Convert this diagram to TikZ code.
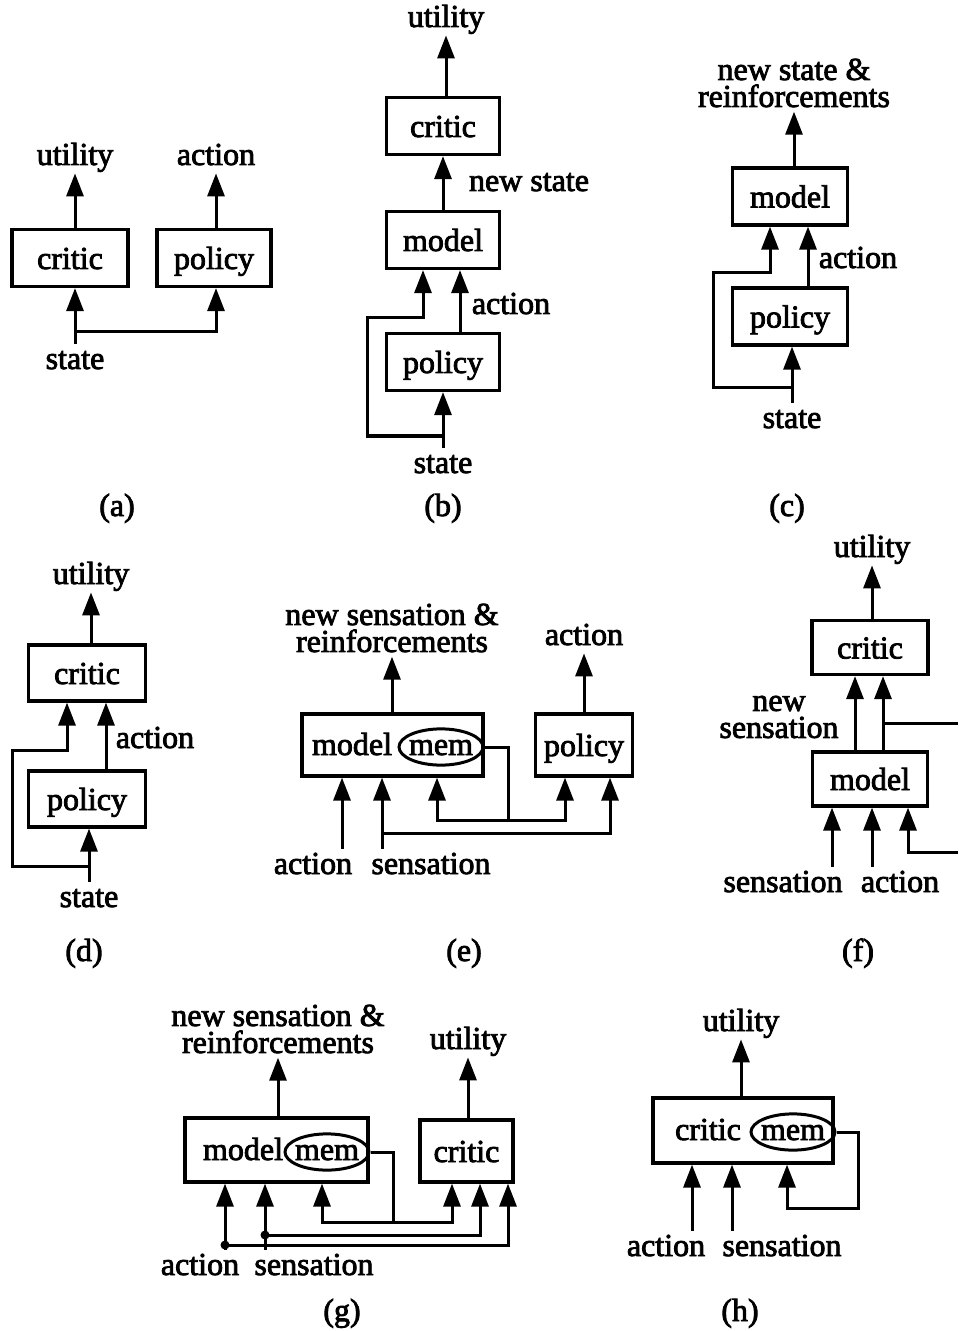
\documentclass[tikz,border=0pt]{standalone}
\usepackage{fontspec}
\newfontfamily\scanfont{Liberation Serif}[FakeBold=2.5]
\usetikzlibrary{arrows.meta, calc, shapes.geometric}
\newcommand{\figfont}{\scanfont\fontsize{16}{13.5}\selectfont}
\tikzset{
  blk/.style    = {draw, line width=1.6pt, minimum width=57pt, minimum height=28.5pt,
                   font=\figfont, text height=13pt, text depth=2pt, inner sep=2pt},
  memo/.style   = {draw, ellipse, line width=1.5pt, minimum width=42pt, minimum height=18pt,
                   font=\figfont, text height=12pt, text depth=4pt, anchor=base,
                   inner xsep=-1.2pt, inner ysep=-1.6pt},
  txt/.style    = {font=\figfont, anchor=base, inner sep=0pt},
  lbl/.style    = {font=\figfont, text height=12.5pt, text depth=4pt, anchor=base, inner sep=0pt},
  lbltwo/.style = {font=\figfont, align=center, inner sep=2pt},
  flow/.style   = {-{Triangle[length=11.5pt, width=8.5pt]}, line width=1.5pt},
  wire/.style   = {line width=1.5pt},
  jdot/.style   = {circle, fill, inner sep=0pt, minimum size=4.5pt},
}

\begin{document}
\begin{tikzpicture}[x=0.5pt, y=-0.5pt]
    \useasboundingbox (0,0) rectangle (958,1331);

    % (a)
    \node[blk, minimum width=58pt] (aCritic) at (70,258)  {critic};
    \node[blk]                     (aPolicy) at (214,258) {policy};
    \node[lbl] (aUtil)  at (75,165)  {utility};
    \node[lbl] (aAct)   at (216,165) {action};
    \node[lbl] (aState) at (75,369)  {state};
    \coordinate (aFork) at (75,332);
    \draw[flow] (aUtil.south |- aCritic.north) -- (aUtil.south);
    \draw[flow] (aAct.south |- aPolicy.north) -- (aAct.south);
    \draw[flow] (aState.north) -- (aState.north |- aCritic.south);
    \draw[flow] (aFork) -| (aAct.south |- aPolicy.south);
    \node[lbl] (aTag) at (117,516) {(a)};

    % (b)
    \node[blk, minimum width=56.5pt] (bCritic) at (443,126) {critic};
    \node[blk, minimum width=56.5pt] (bModel)  at (443,240) {model};
    \node[blk, minimum width=56.5pt] (bPolicy) at (443,362) {policy};
    \node[lbl] (bUtil)  at (446,27)  {utility};
    \node[lbl] (bNew)   at (529,191) {new state};
    \node[lbl] (bAct)   at (511,314) {action};
    \node[lbl] (bState) at (443,473) {state};
    \coordinate (bFork) at (443,436);
    \draw[flow] (bUtil.south |- bCritic.north) -- (bUtil.south);
    \draw[flow] (bModel.north) -- (bCritic.south);
    \draw[flow] ($(bPolicy.north)+(17,0)$) -- ($(bModel.south)+(17,0)$);
    \draw[flow] (bState.north) -- (bPolicy.south);
    \draw[flow] (bFork) -| (367,318) -| ($(bModel.south)+(-20,0)$);
    \node[lbl] (bTag) at (443,516) {(b)};

    % (c)
    \node[blk, minimum width=57.5pt] (cModel)  at (790,196.5) {model};
    \node[blk, minimum width=57.5pt] (cPolicy) at (790,316.5) {policy};
    \node[lbltwo] (cOut) at (794,83) {new state \&\\reinforcements};
    \node[lbl] (cAct)   at (858,268) {action};
    \node[lbl] (cState) at (792,428) {state};
    \coordinate (cFork) at (792,388);
    \draw[flow] (cOut.south |- cModel.north) -- (cOut.south);
    \draw[flow] ($(cPolicy.north)+(18,0)$) -- ($(cModel.south)+(18,0)$);
    \draw[flow] (cState.north) -- (cState.north |- cPolicy.south);
    \draw[flow] (cFork) -| (713,273) -| ($(cModel.south)+(-20,0)$);
    \node[lbl] (cTag) at (787,516) {(c)};

    % (d)
    \node[blk, minimum width=58.5pt, minimum height=28pt] (dCritic) at (87,673) {critic};
    \node[blk, minimum width=58.5pt, minimum height=28pt] (dPolicy) at (87,799) {policy};
    \node[lbl] (dUtil)  at (91,584)  {utility};
    \node[lbl] (dAct)   at (155,748) {action};
    \node[lbl] (dState) at (89,907)  {state};
    \coordinate (dFork) at (89,866);
    \draw[flow] (dUtil.south |- dCritic.north) -- (dUtil.south);
    \draw[flow] ($(dPolicy.north)+(19,0)$) -- ($(dCritic.south)+(19,0)$);
    \draw[flow] (dState.north) -- (dState.north |- dPolicy.south);
    \draw[flow] (dFork) -| (12,750) -| ($(dCritic.south)+(-20,0)$);
    \node[lbl] (dTag) at (84,961) {(d)};

    % (e)
    \node[blk, minimum width=90.5pt, minimum height=31pt] (eModel) at (392.5,745) {};
    \node[txt]  (eModelTxt) at (352,755) {model};
    \node[memo] (eMem)      at (441,755) {mem};
    \node[blk, minimum width=48.5pt, minimum height=31pt] (ePolicy) at (584,745) {policy};
    \node[lbltwo] (eOut) at (392,628) {new sensation \&\\reinforcements};
    \node[lbl] (eAct)   at (584,645) {action};
    \node[lbl] (eActIn) at (313,874) {action};
    \node[lbl] (eSens)  at (431,874) {sensation};
    \coordinate (eTap)      at (508,820);
    \coordinate (eSensFork) at (382,833);
    \draw[flow] (eModel.north -| eOut.south) -- (eOut.south);
    \draw[flow] (ePolicy.north -| eAct.south) -- (eAct.south);
    \draw[flow] ($(eActIn.north)+(29,0)$) -- ($(eModel.south)+(-50.5,0)$);
    \draw[flow] ($(eSens.north)+(-49,0)$) -- ($(eModel.south)+(-10.5,0)$);
    \draw[wire] (eMem.east) -| (eTap);
    \draw[flow] (eTap) -| ($(eModel.south)+(44.5,0)$);
    \draw[flow] (eTap) -| ($(ePolicy.south)+(-19,0)$);
    \draw[flow] (eSensFork) -| ($(ePolicy.south)+(26,0)$);
    \node[lbl] (eTag) at (464,961) {(e)};

    % (f)
    \node[blk, minimum width=58pt, minimum height=27pt]   (fCritic) at (870,647.5) {critic};
    \node[blk, minimum width=57.5pt, minimum height=27pt] (fModel)  at (870,779)   {model};
    \node[lbl]    (fUtil) at (872,557) {utility};
    \node[lbltwo] (fNew)  at (779,717) {new\\sensation};
    \node[lbl]    (fSens) at (783,892) {sensation};
    \node[lbl]    (fAct)  at (900,892) {action};
    \coordinate (fOut)  at (958,723);
    \coordinate (fJoin) at (883,723);
    \coordinate (fBack) at (958,852);
    \draw[flow] (fUtil.south |- fCritic.north) -- (fUtil.south);
    \draw[flow] ($(fModel.north)+(-15,0)$) -- ($(fCritic.south)+(-15,0)$);
    \draw[flow] ($(fModel.north)+(13,0)$) -- ($(fCritic.south)+(13,0)$);
    \draw[wire] (fOut) -- (fJoin);
    \draw[flow] ($(fSens.north)+(49,0)$) -- ($(fModel.south)+(-38,0)$);
    \draw[flow] ($(fAct.north)+(-28,0)$) -- ($(fModel.south)+(2,0)$);
    \draw[flow] (fBack) -| ($(fModel.south)+(38,0)$);
    \node[lbl] (fTag) at (858,961) {(f)};

    % (g)
    \node[blk, minimum width=91.5pt, minimum height=32pt] (gModel) at (276.5,1150) {};
    \node[txt]  (gModelTxt) at (243,1160) {model};
    \node[memo] (gMem)      at (327,1160) {mem};
    \node[blk, minimum width=46.5pt, minimum height=31pt] (gCritic) at (466.5,1151) {critic};
    \node[lbltwo] (gOut) at (278,1029) {new sensation \&\\reinforcements};
    \node[lbl] (gUtil)  at (468,1049) {utility};
    \node[lbl] (gActIn) at (200,1275) {action};
    \node[lbl] (gSens)  at (314,1275) {sensation};
    \coordinate (gTap)      at (393,1222);
    \coordinate (gSensFork) at (265,1235);
    \coordinate (gActFork)  at (225,1245);
    \draw[flow] (gModel.north -| gOut.south) -- (gOut.south);
    \draw[flow] (gCritic.north -| gUtil.south) -- (gUtil.south);
    \draw[flow] ($(gActIn.north)+(25,0)$) -- ($(gModel.south)+(-51.5,0)$);
    \draw[flow] ($(gSens.north)+(-49,0)$) -- ($(gModel.south)+(-11.5,0)$);
    \draw[wire] (gMem.east) -| (gTap);
    \draw[flow] (gTap) -| ($(gModel.south)+(45.5,0)$);
    \draw[flow] (gTap) -| ($(gCritic.south)+(-14.5,0)$);
    \draw[flow] (gSensFork) -| ($(gCritic.south)+(13.5,0)$);
    \draw[flow] (gActFork) -| ($(gCritic.south)+(41.5,0)$);
    \node[jdot] (gDotS) at (gSensFork) {};
    \node[jdot] (gDotA) at (gActFork) {};
    \node[lbl] (gTag) at (342,1321) {(g)};

    % (h)
    \node[blk, minimum width=90pt, minimum height=32.5pt] (hCritic) at (743,1130.5) {};
    \node[txt]  (hCriticTxt) at (708,1140) {critic};
    \node[memo] (hMem)       at (793,1140) {mem};
    \node[lbl] (hUtil) at (741,1031) {utility};
    \node[lbl] (hAct)  at (666,1256) {action};
    \node[lbl] (hSens) at (782,1256) {sensation};
    \draw[flow] (hCritic.north -| hUtil.south) -- (hUtil.south);
    \draw[flow] ($(hAct.north)+(26,0)$) -- ($(hCritic.south)+(-51,0)$);
    \draw[flow] ($(hSens.north)+(-50,0)$) -- ($(hCritic.south)+(-11,0)$);
    \draw[flow] (hMem.east) -| (858,1208) -| ($(hCritic.south)+(44,0)$);
    \node[lbl] (hTag) at (740,1321) {(h)};
\end{tikzpicture}
\end{document}
